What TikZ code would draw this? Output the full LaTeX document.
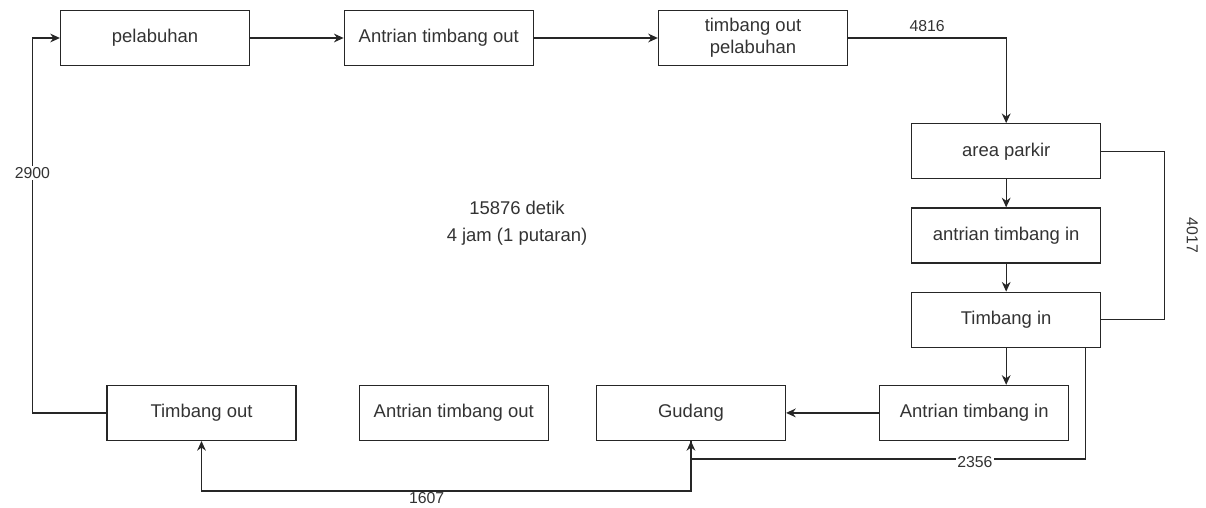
\documentclass[tikz,border=0pt]{standalone}
\usepackage{fontspec}
\setmainfont{Liberation Sans}
\usetikzlibrary{arrows.meta, positioning, calc}
\tikzset{
  box/.style={rectangle, draw=black!85, line width=0.7pt,
              minimum width=3.78cm, minimum height=1.1cm,
              align=center, text=black!80, font=\fontsize{10.5}{12.5}\selectfont},
  arr/.style={-{Stealth[length=5.5pt, width=5pt]}, line width=0.7pt, draw=black!85},
  link/.style={line width=0.7pt, draw=black!85},
  lbl/.style={font=\fontsize{9}{10}\selectfont, text=black!80, inner sep=1pt},
  note/.style={font=\fontsize{10.5}{12.5}\selectfont, text=black!80},
}

\begin{document}
\begin{tikzpicture}[node distance=1.88cm]
  \useasboundingbox (0,0) rectangle (24.12,-10.16);

  % top row
  \node[box] (pel) at (3.1,-0.76) {pelabuhan};
  \node[box, right=1.87cm of pel] (aout) {Antrian timbang out};
  \node[box, right=2.48cm of aout] (tpel) {timbang out\\pelabuhan};

  % right column
  \node[box, below right=1.14cm and 1.26cm of tpel] (park) {area parkir};
  \node[box, below=0.56cm of park] (atin) {antrian timbang in};
  \node[box, below=0.56cm of atin] (tin) {Timbang in};

  % bottom row
  \node[box, below=0.74cm of tin, xshift=-0.64cm] (ain) {Antrian timbang in};
  \node[box, left=1.86cm of ain] (gud) {Gudang};
  \node[box, left=0.94cm of gud] (aout2) {Antrian timbang out};
  \node[box, left=1.24cm of aout2] (tout) {Timbang out};

  % totals
  \node[note] (dur) at (10.34,-4.16) {15876 detik};
  \node[note] (jam) at (10.34,-4.74) {4 jam (1 putaran)};

  \draw[arr] (pel) -- (aout);
  \draw[arr] (aout) -- (tpel);
  \draw[arr] (tpel.east) -| node[lbl, pos=0.25, above=2pt] {4816} (park.north);

  \draw[arr] (park) -- (atin);
  \draw[arr] (atin) -- (tin);
  \draw[link] (park.east) -- ++(1.26,0) |- node[lbl, pos=0.25, xshift=0.56cm, rotate=-90] {4017} (tin.east);

  \draw[arr] (tin.south) -- (tin.south |- ain.north);
  \draw[arr] (ain) -- (gud);
  \draw[arr] ([xshift=-0.32cm]tin.south east) |- node[lbl, pos=0.64, fill=white, yshift=-2pt] {2356} ([yshift=-0.36cm]gud.south) -- (gud.south);
  \draw[arr] (gud.south) -- ++(0,-1.0) -| node[lbl, pos=0.27, below=0pt, inner sep=0.5pt] {1607} (tout.south);
  \draw[arr] (tout.west) -- ++(-1.48,0) |- node[lbl, pos=0.32, fill=white] {2900} (pel.west);

\end{tikzpicture}
\end{document}
